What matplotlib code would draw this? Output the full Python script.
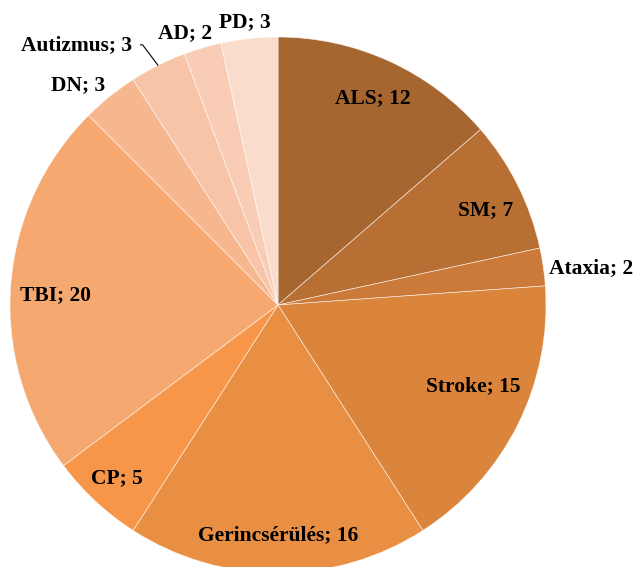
import numpy as np
import matplotlib.pyplot as plt

labels = ['ALS', 'SM', 'Ataxia', 'Stroke', 'Gerincsérülés', 'CP', 'TBI',
          'DN', 'Autizmus', 'AD', 'PD']
values = [12, 7, 2, 15, 16, 5, 20, 3, 3, 2, 3]
colors = ['#A5662F', '#B86F33', '#CB7A39', '#DA843C', '#E98F43', '#F79649',
          '#F5A870', '#F6B78F', '#F8C4A8', '#F9CDB5', '#FADCCC']

# label radius (fraction of pie radius) and angle nudge in degrees
label_r = [0.85, 0.85, 0.97, 0.79, 0.86, 0.88, 0.83, 1.111, 1.113, 1.073, 1.063]
label_da = [0, -2, 0, 4, 0, 0, 1.5, 3.4, 2.7, 2.6, 0.5]

plt.rcParams['font.family'] = ['Liberation Serif', 'DejaVu Serif']
fs = 15.5

fig = plt.figure(figsize=(6.33, 5.67), dpi=100)
W, H = 633, 567
R = 268
cx, cy = 278, 305
ax = fig.add_axes([(cx - R) / W, (H - cy - R) / H, 2 * R / W, 2 * R / H])

ax.pie(values, colors=colors, startangle=90, counterclock=False, radius=1,
       wedgeprops=dict(edgecolor=(1, 1, 1, 0.7), linewidth=0.5))
ax.set_xlim(-1, 1)
ax.set_ylim(-1, 1)
ax.axis('off')

total = sum(values)
cum = np.cumsum([0] + values)
for i, lab in enumerate(labels):
    mid = (cum[i] + cum[i + 1]) / 2 / total * 360
    ang = np.deg2rad(90 - mid + label_da[i])
    x = label_r[i] * np.cos(ang)
    y = label_r[i] * np.sin(ang)
    txt = f'{lab}; {values[i]}'
    if lab == 'Ataxia':
        ax.text(1.01, y, txt, ha='left', va='center', fontsize=fs,
                fontweight='bold')
    elif lab == 'Autizmus':
        a0 = np.deg2rad(90 - mid)
        ax.annotate(txt, xy=(np.cos(a0), np.sin(a0)),
                    xytext=(x, y), ha='right', va='center', fontsize=fs,
                    fontweight='bold',
                    arrowprops=dict(arrowstyle='-', color='black', lw=0.8,
                                    connectionstyle='angle,angleA=0,angleB=127,rad=0',
                                    shrinkA=4, shrinkB=0))
    else:
        ax.text(x, y, txt, ha='center', va='center', fontsize=fs,
                fontweight='bold')

fig.savefig('out.png', dpi=100)
